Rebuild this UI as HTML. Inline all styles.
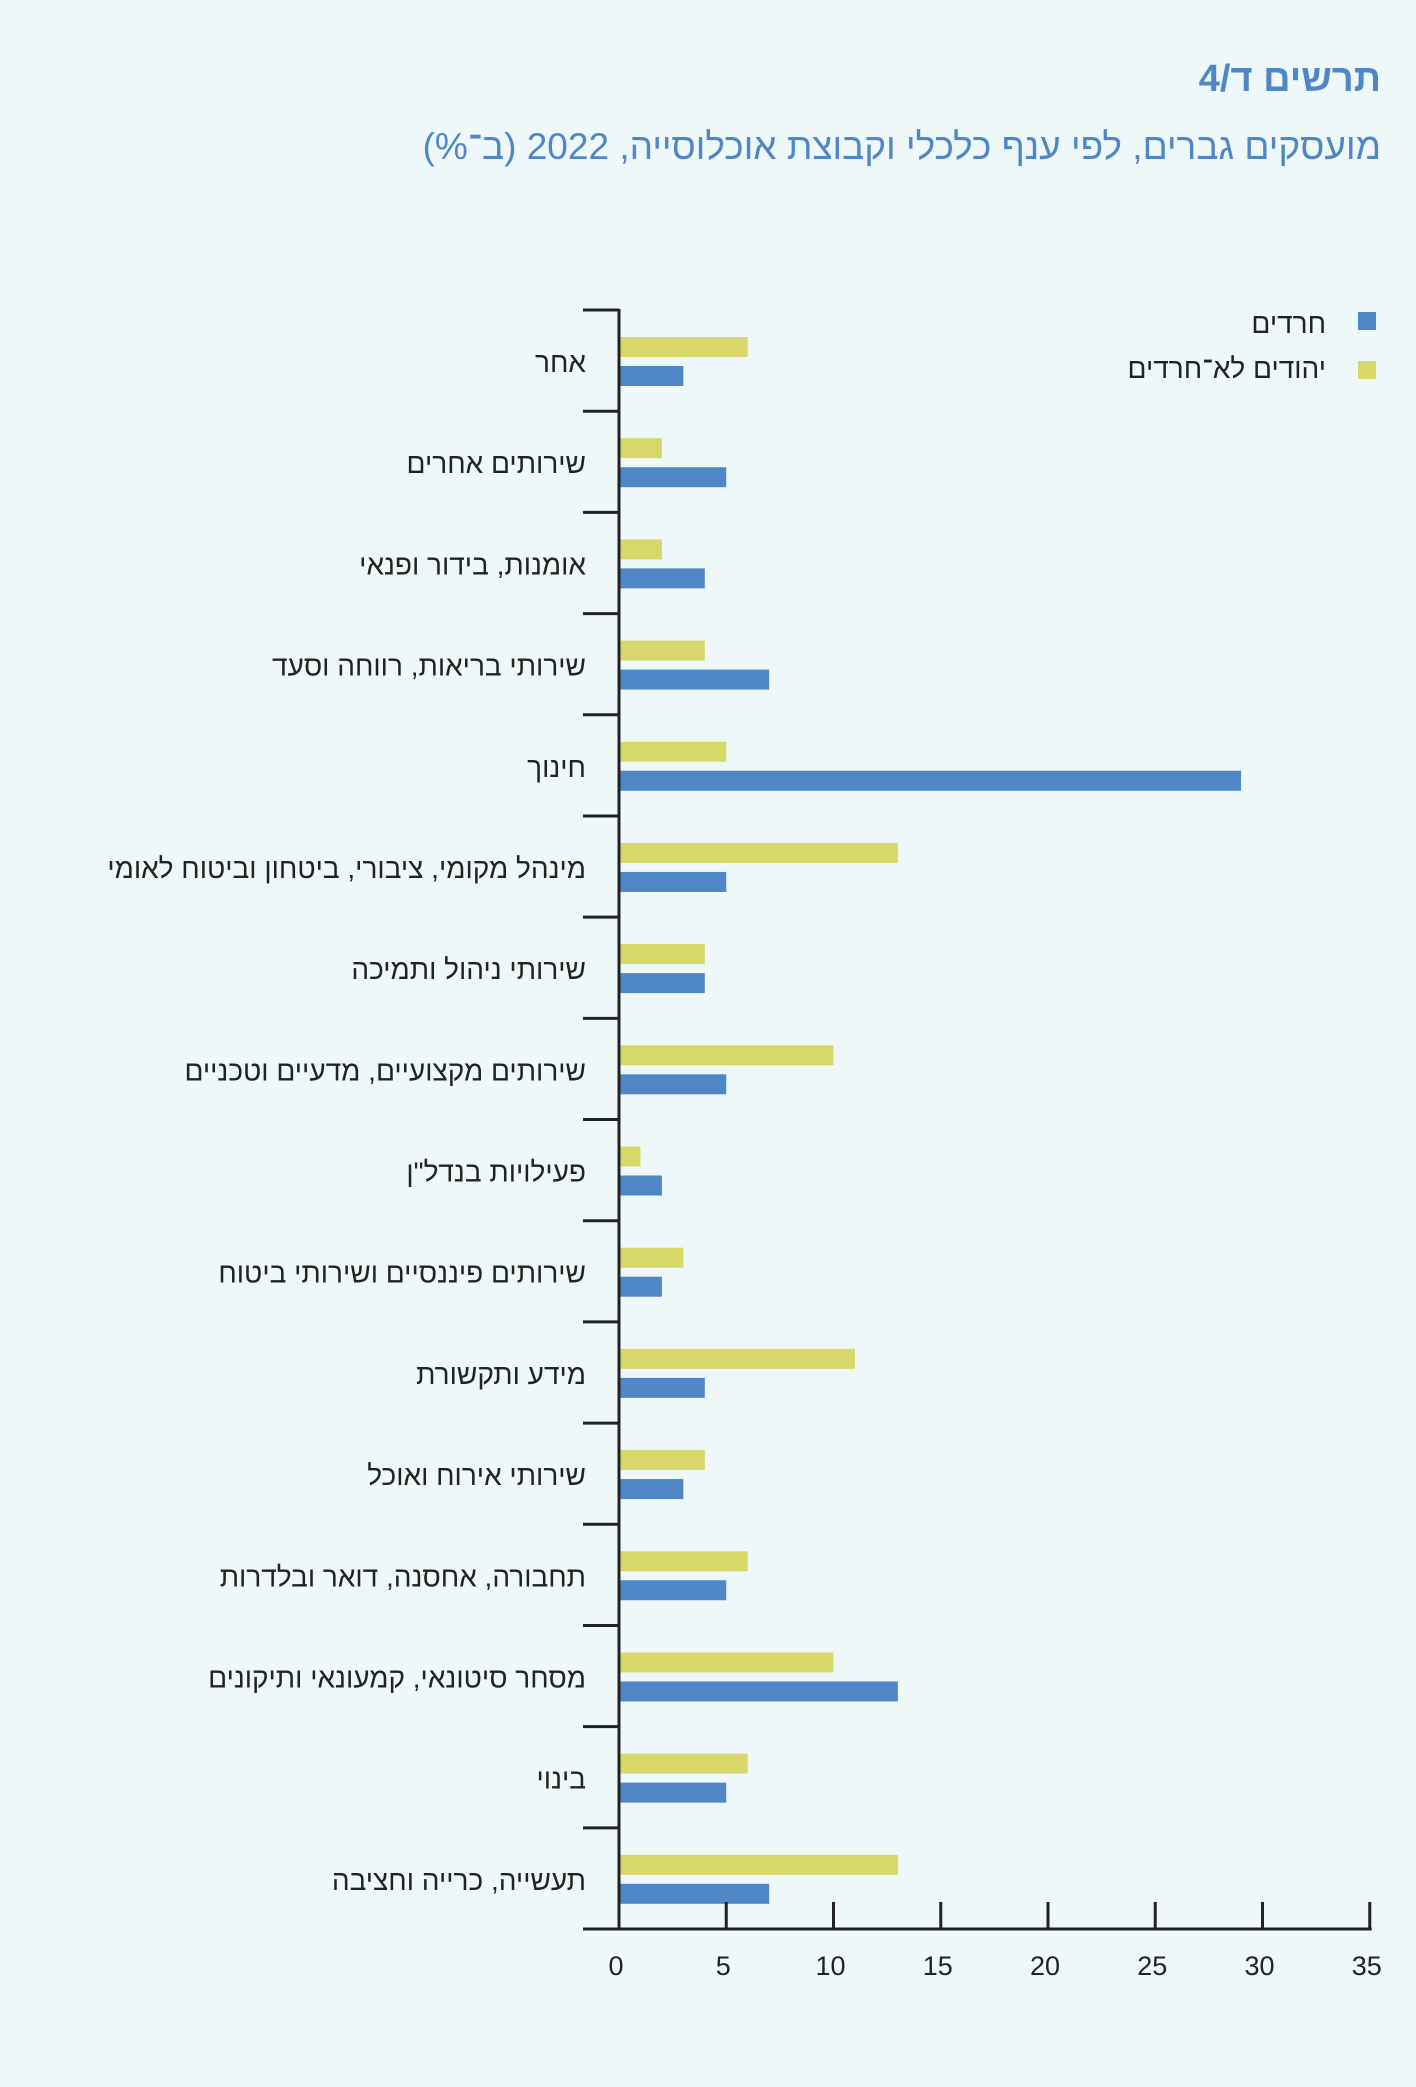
<!DOCTYPE html>
<html lang="he"><head><meta charset="utf-8"><style>
html,body{margin:0;padding:0;background:#eff8f8;}
svg{display:block;font-family:"Liberation Sans","Noto Sans CJK SC",sans-serif;}
</style></head><body>
<svg id="chart" width="1416" height="2087" viewBox="0 0 1416 2087" xmlns="http://www.w3.org/2000/svg">
<rect width="1416" height="2087" fill="#eff8f8"/>
<text x="1381" y="91" text-anchor="start" font-size="38" font-weight="bold" fill="#4f86c6" direction="rtl">תרשים ד/4</text>
<text x="1381" y="159" text-anchor="start" font-size="37" fill="#4f86c6" direction="rtl">מועסקים גברים, לפי ענף כלכלי וקבוצת אוכלוסייה, 2022 (ב־%)</text>
<rect x="1358" y="312" width="18" height="18" fill="#4f86c6"/>
<text x="1326" y="333" text-anchor="start" font-size="28" fill="#222" direction="rtl">חרדים</text>
<rect x="1358" y="361" width="18" height="18" fill="#d8d86a"/>
<text x="1326" y="378" text-anchor="start" font-size="28" fill="#222" direction="rtl">יהודים לא־חרדים</text>
<g id="plot"></g>
</svg>
<script>
const categories=["אחר","שירותים אחרים","אומנות, בידור ופנאי","שירותי בריאות, רווחה וסעד","חינוך","מינהל מקומי, ציבורי, ביטחון וביטוח לאומי","שירותי ניהול ותמיכה","שירותים מקצועיים, מדעיים וטכניים","פעילויות בנדל\"ן","שירותים פיננסיים ושירותי ביטוח","מידע ותקשורת","שירותי אירוח ואוכל","תחבורה, אחסנה, דואר ובלדרות","מסחר סיטונאי, קמעונאי ותיקונים","בינוי","תעשייה, כרייה וחציבה"];
const haredim=[3,5,4,7,29,5,4,5,2,2,4,3,5,13,5,7];
const nonHaredi=[6,2,2,4,5,13,4,10,1,3,11,4,6,10,6,13];
const xTicks=[0,5,10,15,20,25,30,35];
const NS="http://www.w3.org/2000/svg";
const g=document.getElementById('plot');
const x0=619,unit=21.45,yTop=310,yBot=1929;
const band=(yBot-yTop)/categories.length;
function xs(v){return x0+v*unit;}
function mk(t,a){const e=document.createElementNS(NS,t);for(const k in a)e.setAttribute(k,a[k]);g.appendChild(e);return e;}
categories.forEach((c,i)=>{
  const b=yTop+i*band;
  const y=mk('rect',{x:x0,y:b+27,width:xs(nonHaredi[i])-x0,height:20,fill:'#d8d86a'});
  
  
  const h=mk('rect',{x:x0,y:b+56,width:xs(haredim[i])-x0,height:20,fill:'#4f86c6'});
  
  
  const t=mk('text',{x:586,y:b+62,'text-anchor':'start','font-size':28,fill:'#222',direction:'rtl'});
  t.textContent=c;
  
  
  const tk=mk('line',{x1:583,x2:x0,y1:b,y2:b,stroke:'#222','stroke-width':3});
  
  
});
const ya=mk('line',{x1:x0,x2:x0,y1:yTop-1,y2:yBot,stroke:'#222','stroke-width':3});


const xa=mk('line',{x1:583,x2:xs(35)+2,y1:yBot,y2:yBot,stroke:'#222','stroke-width':3});


xTicks.forEach(v=>{
  if(v>0){const l=mk('line',{x1:xs(v),x2:xs(v),y1:yBot-27,y2:yBot,stroke:'#222','stroke-width':3});
  
  }
  const t=mk('text',{x:xs(v)-3,y:1975,'text-anchor':'middle','font-size':27,fill:'#222'});
  t.textContent=v;
  
  
});
</script>
</body></html>
